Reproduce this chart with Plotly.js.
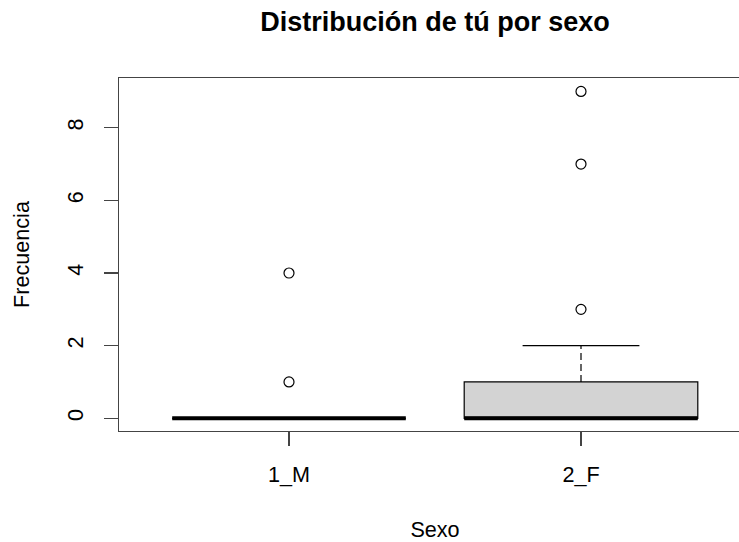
<!DOCTYPE html>
<html>
<head>
<meta charset="utf-8">
<script src="https://cdn.plot.ly/plotly-3.0.1.min.js"></script>
<style>
html, body { margin: 0; padding: 0; background: #fff; overflow: hidden; }
#wrap { width: 739px; height: 542px; overflow: hidden; position: relative; }
#chart { width: 780px; height: 542px; }
</style>
</head>
<body>
<div id="wrap"><div id="chart"></div></div>
<script>
// ---- Data ----
const categories = ['1_M', '2_F'];
const positions = [1, 2];
const q1Values = [0, 0];
const medianValues = [0, 0];
const q3Values = [0, 1];
const lowerWhiskers = [0, 0];
const upperWhiskers = [0, 2];
const outliersM = [1, 4];
const outliersF = [3, 7, 9];
const yTickVals = [0, 2, 4, 6, 8];

const FONT = 'Liberation Sans, Arial, Helvetica, sans-serif';
const BOXW = 0.8;
const CAPW = 0.4;

const traces = [];

// Boxes (whiskers drawn separately so they can be dashed)
traces.push({
  type: 'box',
  x: positions,
  q1: q1Values,
  median: medianValues,
  q3: q3Values,
  lowerfence: q1Values,
  upperfence: q3Values,
  width: BOXW,
  whiskerwidth: 0,
  boxpoints: false,
  fillcolor: '#d3d3d3',
  line: { color: '#000', width: 1.2 },
  hoverinfo: 'skip',
  showlegend: false
});

// Whiskers (dashed)
const wx = [], wy = [];
positions.forEach((p, i) => {
  wx.push(p, p, null, p, p, null);
  wy.push(q3Values[i], upperWhiskers[i], null, q1Values[i], lowerWhiskers[i], null);
});
traces.push({
  type: 'scatter', mode: 'lines', x: wx, y: wy,
  line: { color: '#000', width: 1.2, dash: '7px,4px' },
  hoverinfo: 'skip', showlegend: false
});

// Whisker caps
const cx = [], cy = [];
positions.forEach((p, i) => {
  cx.push(p - CAPW / 2, p + CAPW / 2, null, p - CAPW / 2, p + CAPW / 2, null);
  cy.push(upperWhiskers[i], upperWhiskers[i], null, lowerWhiskers[i], lowerWhiskers[i], null);
});
traces.push({
  type: 'scatter', mode: 'lines', x: cx, y: cy,
  line: { color: '#000', width: 1.2 },
  hoverinfo: 'skip', showlegend: false
});

// Thick medians
const mx = [], my = [];
positions.forEach((p, i) => {
  mx.push(p - BOXW / 2, p + BOXW / 2, null);
  my.push(medianValues[i], medianValues[i], null);
});
traces.push({
  type: 'scatter', mode: 'lines', x: mx, y: my,
  line: { color: '#000', width: 4 },
  hoverinfo: 'skip', showlegend: false
});

// Outliers
const outlierGroups = [outliersM, outliersF];
outlierGroups.forEach((vals, i) => {
  traces.push({
    type: 'scatter', mode: 'markers',
    x: vals.map(() => positions[i]), y: vals,
    marker: { symbol: 'circle-open', size: 10, color: '#000', line: { width: 1.2, color: '#000' } },
    showlegend: false
  });
});

const layout = {
  width: 780, height: 542,
  margin: { l: 119, r: 29, t: 78, b: 111 },
  paper_bgcolor: '#fff', plot_bgcolor: '#fff',
  showlegend: false,
  font: { family: FONT, size: 21.6, color: '#000' },
  title: {
    text: 'Distribución de tú por sexo',
    font: { family: FONT, size: 27, weight: 'bold', color: '#000' },
    xref: 'paper', x: 0.5, xanchor: 'center',
    yref: 'container', y: 1 - 22 / 542, yanchor: 'middle'
  },
  xaxis: {
    range: [1 - 170 / 292, 2 + 170 / 292],
    tickvals: positions, ticktext: categories,
    ticks: 'outside', ticklen: 14, tickwidth: 1.2, tickcolor: '#444',
    showline: true, linecolor: '#444', linewidth: 1.3, mirror: true,
    showgrid: false, zeroline: false,
    ticklabelstandoff: 10,
    tickfont: { family: FONT, size: 21.6, color: '#000' },
    title: { text: 'Sexo', font: { family: FONT, size: 21.6, color: '#000' }, standoff: 36 },
    automargin: false
  },
  yaxis: {
    range: [-0.35, 9.37],
    tickvals: yTickVals,
    tickangle: -90,
    ticks: 'outside', ticklen: 14, tickwidth: 1.2, tickcolor: '#444',
    showline: true, linecolor: '#444', linewidth: 1.3, mirror: true,
    showgrid: false, zeroline: false,
    ticklabelstandoff: 12,
    tickfont: { family: FONT, size: 21.6, color: '#000' },
    title: { text: 'Frecuencia', font: { family: FONT, size: 21.6, color: '#000' }, standoff: 27 },
    automargin: false
  }
};

Plotly.newPlot('chart', traces, layout, { displayModeBar: false, staticPlot: true });
</script>
</body>
</html>
